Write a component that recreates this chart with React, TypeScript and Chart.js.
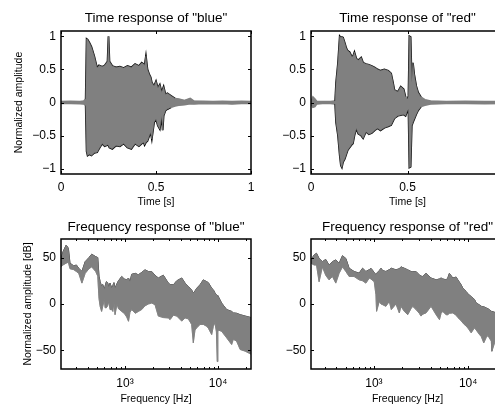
import React, { useEffect, useRef } from "react";
import { Chart, registerables } from "chart.js";

Chart.register(...registerables);

// ---------- data ----------
// Time response of "blue": envelope of the waveform
const blueTime = [0, 0.05, 0.1, 0.12, 0.13, 0.135, 0.14, 0.15, 0.16, 0.175, 0.19, 0.2, 0.217, 0.23, 0.245, 0.25, 0.255, 0.27, 0.29, 0.31, 0.33, 0.35, 0.37, 0.39, 0.41, 0.425, 0.435, 0.44, 0.447, 0.455, 0.465, 0.472, 0.478, 0.49, 0.5, 0.51, 0.52, 0.53, 0.535, 0.54, 0.55, 0.56, 0.58, 0.6, 0.62, 0.65, 0.68, 0.7, 0.75, 0.8, 0.85, 0.9, 0.95, 1.0];
const blueUpper = [0.012, 0.015, 0.012, 0.02, 0.05, 0.96, 0.95, 0.9, 0.84, 0.7, 0.52, 0.56, 0.54, 0.56, 0.62, 1.0, 0.62, 0.55, 0.53, 0.54, 0.52, 0.55, 0.53, 0.58, 0.55, 0.6, 0.58, 0.56, 0.7, 0.5, 0.42, 0.38, 0.3, 0.25, 0.32, 0.22, 0.27, 0.15, 0.2, 0.24, 0.12, 0.14, 0.1, 0.06, 0.05, 0.03, 0.06, 0.02, 0.015, 0.012, 0.015, 0.012, 0.015, 0.012];
const blueLower = [-0.012, -0.012, -0.015, -0.02, -0.04, -0.74, -0.8, -0.78, -0.8, -0.76, -0.75, -0.7, -0.62, -0.66, -0.64, -0.65, -0.68, -0.7, -0.65, -0.66, -0.62, -0.68, -0.7, -0.62, -0.66, -0.62, -0.6, -0.64, -0.6, -0.58, -0.5, -0.45, -0.55, -0.3, -0.25, -0.35, -0.4, -0.2, -0.42, -0.2, -0.12, -0.1, -0.07, -0.05, -0.04, -0.03, -0.015, -0.02, -0.012, -0.015, -0.012, -0.02, -0.012, -0.012];

// Time response of "red"
const redTime = [0, 0.01, 0.02, 0.03, 0.06, 0.1, 0.125, 0.13, 0.14, 0.149, 0.155, 0.16, 0.166, 0.175, 0.183, 0.19, 0.2, 0.21, 0.217, 0.225, 0.235, 0.245, 0.26, 0.27, 0.285, 0.3, 0.315, 0.33, 0.345, 0.36, 0.38, 0.4, 0.415, 0.425, 0.432, 0.45, 0.465, 0.48, 0.49, 0.5, 0.505, 0.51, 0.516, 0.522, 0.528, 0.535, 0.545, 0.555, 0.57, 0.59, 0.62, 0.7, 0.8, 0.9, 1.0];
const redUpper = [0.012, 0.08, 0.05, 0.015, 0.012, 0.012, 0.02, 0.3, 0.6, 1.0, 0.98, 0.99, 0.98, 0.9, 0.82, 0.78, 0.76, 0.7, 0.69, 0.76, 0.66, 0.64, 0.68, 0.6, 0.58, 0.57, 0.55, 0.53, 0.5, 0.48, 0.5, 0.48, 0.44, 0.3, 0.19, 0.16, 0.24, 0.2, 0.08, 0.05, 0.1, 1.0, 0.99, 0.3, 0.6, 0.42, 0.25, 0.15, 0.08, 0.04, 0.02, 0.012, 0.015, 0.012, 0.012];
const redLower = [-0.012, -0.07, -0.06, -0.02, -0.012, -0.012, -0.02, -0.3, -0.5, -0.8, -0.95, -0.98, -0.9, -0.85, -0.78, -0.72, -0.68, -0.64, -0.62, -0.5, -0.39, -0.47, -0.5, -0.54, -0.44, -0.48, -0.46, -0.42, -0.39, -0.42, -0.38, -0.36, -0.34, -0.28, -0.24, -0.2, -0.19, -0.18, -0.2, -0.12, -0.1, -0.98, -0.97, -0.35, -0.3, -0.25, -0.18, -0.12, -0.06, -0.04, -0.02, -0.012, -0.012, -0.015, -0.012];

// Frequency response of "blue" (dB)
const blueFreq = [205, 215, 233, 246, 256, 281, 300, 318, 344, 373, 410, 438, 484, 509, 525, 540, 560, 575, 600, 610, 630, 650, 670, 690, 720, 740, 760, 781, 820, 850, 921, 980, 1043, 1090, 1130, 1180, 1290, 1390, 1510, 1640, 1780, 1935, 2100, 2280, 2580, 2920, 3050, 3310, 3600, 4070, 4420, 4790, 5200, 5420, 5650, 5900, 6400, 6950, 7550, 7860, 8540, 8900, 9250, 9600, 9800, 9950, 10060, 10930, 12370, 14000, 14600, 15830, 17300, 19580, 22600];
const blueFreqUpper = [48, 56, 63.5, 60, 44, 41, 42, 38.5, 35, 45.6, 50, 53.6, 51, 50, 30, 24, 19, 21, 16, 19, 24, 23, 18, 22.5, 17, 20, 23, 17, 22, 25, 29.6, 27, 26, 28, 24, 32, 33, 31.4, 34, 36.8, 35, 35, 31, 28, 31, 22.5, 21, 20.7, 25, 28, 22.5, 19, 15, 11.8, 14, 17, 20.7, 26, 24, 23, 17, 15.3, 12, 10, 9, 8, 8, 1, -6, -8, -9.6, -10, -11.5, -13, -14.6];
const blueFreqLower = [40, 42, 44, 45, 38, 37, 35, 33, 22.5, 33, 38, 40, 35, 30, 6, -2.5, -8, -3, 5, -4, -4, -2, 3, -6, -6, -8, 2, -11.5, 0, -5, -8, -10, -14, -18.6, -9, -6, -10, -8, -6, -2, 0, 1, -0.7, -13, -14.6, -15, -16.8, -12, -13, -18.4, -15, -16, -22, -41.8, -28, -25.7, -22, -22, -24, -26, -32.9, -24, -20, -30, -62, -30, -28, -29.4, -36.4, -43.6, -38, -40, -49, -50.8, -54];

// Frequency response of "red" (dB)
const redFreq = [215, 232, 246, 262, 284, 308, 334, 363, 394, 427, 464, 504, 546, 617, 697, 758, 822, 893, 929, 1008, 1050, 1067, 1140, 1190, 1237, 1340, 1455, 1530, 1714, 1860, 1937, 2100, 2283, 2475, 2580, 2800, 2910, 3030, 3160, 3300, 3570, 4040, 4570, 4960, 5160, 5370, 5840, 6080, 6320, 6870, 7450, 7770, 8420, 8780, 9520, 9920, 10760, 11660, 12170, 13190, 13760, 14650, 15560, 16200, 17600, 17850, 19900, 24000];
const redFreqUpper = [47.5, 52.8, 54.6, 49, 45.6, 48, 42, 45.6, 47.5, 43.8, 52, 49, 38.5, 35, 33.2, 38.5, 35, 37, 38.5, 34, 31.4, 33, 36, 38.5, 36, 35, 37, 38.5, 36.8, 38, 40, 38.5, 36.8, 35, 35, 35, 33, 31.4, 30, 29.6, 33, 28, 26, 27, 28, 27, 26, 28, 33, 28, 29, 26, 20.7, 17, 13.5, 11, 8, 5, 1, -1, -2.5, -3, -4.3, -5, -7.9, -8, -9.6, -11];
const redFreqLower = [44, 42, 42, 24, 40, 31, 26, 29.6, 22.5, 33, 40, 35, 29.6, 29.6, 26, 25, 22.5, 28, 27, 24, 10, -7.9, 2.8, 0, -0.7, -2.5, 2.8, -6, 0, -9.6, -2.5, -7.9, -11.5, -5, -2.5, -6, -8, -10, -13, -11, -9.6, -2.5, -11.5, -16.8, -10, -8, -11.5, -11.5, -10, -9.6, -12, -14.6, -18, -20.4, -24, -25.7, -31, -25.7, -28, -32.9, -35, -41.8, -36, -34, -40, -50.8, -36, -42];

// axes
const timeTicks = [0, 0.5, 1];
const ampTicks = [-1, -0.5, 0, 0.5, 1];
const freqTicks = [1000, 10000];
const freqTickLabels = ["10\u00B3", "10\u2074"];
const dbTicks = [-50, 0, 50];

const titles = [
  'Time response of "blue"',
  'Time response of "red"',
  'Frequency response of "blue"',
  'Frequency response of "red"',
];

// ---------- styling ----------
const FONT = '"Liberation Sans", Arial, Helvetica, sans-serif';
const GRAY = "#808080";
const BLACK = "#000000";

const fmt = (v: number) => {
  const s = String(Math.round(v * 1000) / 1000);
  return s.replace("-", "\u2212");
};

const boxPlugin = {
  id: "matlabBox",
  afterDraw(chart: any) {
    const { ctx, chartArea } = chart;
    const { left, right, top, bottom } = chartArea;
    const xs = chart.scales.x;
    const ys = chart.scales.y;
    ctx.save();
    ctx.strokeStyle = BLACK;
    ctx.lineWidth = 1;
    const L = 3;
    const line = (x1: number, y1: number, x2: number, y2: number) => {
      ctx.beginPath();
      ctx.moveTo(x1, y1);
      ctx.lineTo(x2, y2);
      ctx.stroke();
    };
    ys.ticks.forEach((t: any) => {
      const py = Math.round(ys.getPixelForValue(t.value)) + 0.5;
      line(left, py, left + L, py);
      line(right, py, right - L, py);
    });
    xs.ticks.forEach((t: any) => {
      const px = Math.round(xs.getPixelForValue(t.value)) + 0.5;
      line(px, bottom, px, bottom - L);
      line(px, top, px, top + L);
    });
    if (xs.type === "logarithmic") {
      for (let dec = 100; dec <= 10000; dec *= 10) {
        for (let m = 2; m <= 9; m++) {
          const v = m * dec;
          if (v < xs.min || v > xs.max) continue;
          const px = Math.round(xs.getPixelForValue(v)) + 0.5;
          line(px, bottom, px, bottom - 2);
          line(px, top, px, top + 2);
        }
      }
    }
    ctx.lineWidth = 1.5;
    ctx.strokeRect(left, top, right - left, bottom - top);
    ctx.restore();
  },
};

type PanelSpec = {
  left: number;
  top: number;
  width: number;
  height: number;
  yAxisWidth: number;
  xAxisHeight: number;
  padRight: number;
  title: string;
  titlePadTop: number;
  titlePadBottom: number;
  xTitle: string;
  xTitlePadBottom: number;
  yTitle: string;
  yTitlePadTop: number;
  xType: "linear" | "logarithmic";
  xMin: number;
  xMax: number;
  yMin: number;
  yMax: number;
  xTickValues: number[];
  xTickText: (v: number) => string;
  xTickPad: number;
  yTickValues: number[];
  xs: number[];
  upper: number[];
  lower: number[];
  kind: "time" | "freq";
};

function Panel({ spec }: { spec: PanelSpec }) {
  const ref = useRef<HTMLCanvasElement | null>(null);
  useEffect(() => {
    if (!ref.current) return;
    const s = spec;
    const upperPts = s.xs.map((x, i) => ({ x, y: s.upper[i] }));
    const lowerPts = s.xs.map((x, i) => ({ x, y: s.lower[i] }));
    const timeEdge = (ctx: any) => {
      const a = Math.abs(ctx.p0.parsed.y);
      const b = Math.abs(ctx.p1.parsed.y);
      return a < 0.1 && b < 0.1 ? GRAY : BLACK;
    };
    const isTime = s.kind === "time";
    const chart = new Chart(ref.current, {
      type: "line",
      data: {
        datasets: [
          {
            data: upperPts,
            fill: "+1",
            backgroundColor: GRAY,
            borderColor: GRAY,
            borderWidth: 0.6,
            pointRadius: 0,
            tension: 0,
          },
          {
            data: lowerPts,
            fill: false,
            borderColor: GRAY,
            borderWidth: 0.6,
            pointRadius: 0,
            tension: 0,
          },
          {
            data: upperPts,
            fill: false,
            borderColor: isTime ? BLACK : "#1a1a1a",
            borderWidth: isTime ? 1.8 : 1,
            pointRadius: 0,
            tension: 0,
            segment: isTime ? { borderColor: timeEdge } : undefined,
          },
          {
            data: lowerPts,
            fill: false,
            borderColor: isTime ? BLACK : GRAY,
            borderWidth: isTime ? 1.8 : 0.9,
            pointRadius: 0,
            tension: 0,
            segment: isTime ? { borderColor: timeEdge } : undefined,
          },
        ],
      } as any,
      options: {
        animation: false,
        responsive: false,
        maintainAspectRatio: false,
        layout: { padding: { left: 0, top: 0, right: s.padRight, bottom: 0 } },
        plugins: {
          legend: { display: false },
          tooltip: { enabled: false },
          title: {
            display: true,
            text: s.title,
            fullSize: false,
            color: BLACK,
            font: { family: FONT, size: 13.5, weight: "normal" },
            padding: { top: s.titlePadTop, bottom: s.titlePadBottom },
          },
        },
        scales: {
          x: {
            type: s.xType,
            min: s.xMin,
            max: s.xMax,
            position: "bottom",
            grid: { display: false, drawTicks: false },
            border: { display: false },
            ticks: {
              color: BLACK,
              font: { family: FONT, size: 12 },
              padding: s.xTickPad,
              maxRotation: 0,
              autoSkip: false,
              callback: (v: any) => s.xTickText(Number(v)),
            },
            afterBuildTicks: (sc: any) => {
              sc.ticks = s.xTickValues.map((v) => ({ value: v }));
            },
            afterFit: (sc: any) => {
              sc.height = s.xAxisHeight;
            },
            title: {
              display: true,
              text: s.xTitle,
              color: BLACK,
              font: { family: FONT, size: 10.5 },
              padding: { top: 0, bottom: s.xTitlePadBottom },
            },
          },
          y: {
            type: "linear",
            min: s.yMin,
            max: s.yMax,
            grid: { display: false, drawTicks: false },
            border: { display: false },
            ticks: {
              color: BLACK,
              font: { family: FONT, size: 12 },
              padding: 5,
              autoSkip: false,
              callback: (v: any) => fmt(Number(v)),
            },
            afterBuildTicks: (sc: any) => {
              sc.ticks = s.yTickValues.map((v) => ({ value: v }));
            },
            afterFit: (sc: any) => {
              sc.width = s.yAxisWidth;
            },
            title: {
              display: s.yTitle !== "",
              text: s.yTitle,
              color: BLACK,
              font: { family: FONT, size: 10.5 },
              padding: { top: s.yTitlePadTop, bottom: 0 },
            },
          },
        },
      } as any,
      plugins: [boxPlugin],
    });
    return () => chart.destroy();
  }, [spec]);
  return (
    <canvas
      ref={ref}
      width={spec.width}
      height={spec.height}
      style={{
        position: "absolute",
        left: spec.left,
        top: spec.top,
        width: spec.width,
        height: spec.height,
        display: "block",
      }}
    />
  );
}

const timeTickText = (v: number) => fmt(v);
const freqTickText = (v: number) => {
  const i = freqTicks.indexOf(v);
  return i >= 0 ? freqTickLabels[i] : "";
};

const panels: PanelSpec[] = [
  {
    left: 0, top: 0, width: 261, height: 210,
    yAxisWidth: 61, xAxisHeight: 36, padRight: 10,
    title: titles[0], titlePadTop: 10, titlePadBottom: 4.8,
    xTitle: "Time [s]", xTitlePadBottom: 2,
    yTitle: "Normalized amplitude", yTitlePadTop: 12.7,
    xType: "linear", xMin: 0, xMax: 1, yMin: -1.08, yMax: 1.08,
    xTickValues: timeTicks, xTickText: timeTickText, xTickPad: 6,
    yTickValues: ampTicks,
    xs: blueTime, upper: blueUpper, lower: blueLower, kind: "time",
  },
  {
    left: 261, top: 0, width: 253, height: 210,
    yAxisWidth: 50, xAxisHeight: 36, padRight: 10,
    title: titles[1], titlePadTop: 10, titlePadBottom: 4.8,
    xTitle: "Time [s]", xTitlePadBottom: 2,
    yTitle: "", yTitlePadTop: 0,
    xType: "linear", xMin: 0, xMax: 1, yMin: -1.08, yMax: 1.08,
    xTickValues: timeTicks, xTickText: timeTickText, xTickPad: 6,
    yTickValues: ampTicks,
    xs: redTime, upper: redUpper, lower: redLower, kind: "time",
  },
  {
    left: 0, top: 205, width: 261, height: 202,
    yAxisWidth: 61, xAxisHeight: 38, padRight: 10,
    title: titles[2], titlePadTop: 13.9, titlePadBottom: 3.9,
    xTitle: "Frequency [Hz]", xTitlePadBottom: 1.7,
    yTitle: "Normalized amplitude [dB]", yTitlePadTop: 21.7,
    xType: "logarithmic", xMin: 205, xMax: 22600, yMin: -70, yMax: 70,
    xTickValues: freqTicks, xTickText: freqTickText, xTickPad: 7,
    yTickValues: dbTicks,
    xs: blueFreq, upper: blueFreqUpper, lower: blueFreqLower, kind: "freq",
  },
  {
    left: 261, top: 205, width: 253, height: 202,
    yAxisWidth: 50, xAxisHeight: 38, padRight: 10,
    title: titles[3], titlePadTop: 13.9, titlePadBottom: 3.9,
    xTitle: "Frequency [Hz]", xTitlePadBottom: 1.7,
    yTitle: "", yTitlePadTop: 0,
    xType: "logarithmic", xMin: 215, xMax: 24000, yMin: -70, yMax: 70,
    xTickValues: freqTicks, xTickText: freqTickText, xTickPad: 7,
    yTickValues: dbTicks,
    xs: redFreq, upper: redFreqUpper, lower: redFreqLower, kind: "freq",
  },
];

export default function App() {
  return (
    <div
      style={{
        position: "absolute",
        left: 0,
        top: 0,
        width: 495,
        height: 407,
        overflow: "hidden",
        background: "#ffffff",
      }}
    >
      {panels.map((p, i) => (
        <Panel key={i} spec={p} />
      ))}
    </div>
  );
}
